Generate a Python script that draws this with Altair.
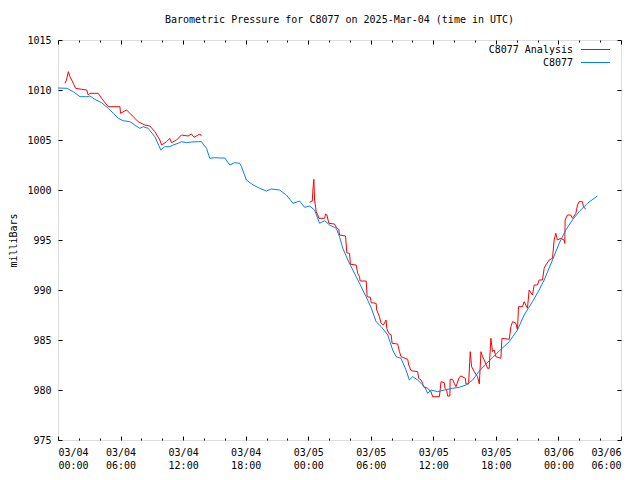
import altair as alt
import pandas as pd

TITLE = "Barometric Pressure for C8077 on 2025-Mar-04 (time in UTC)"
Y_TITLE = "milliBars"
SERIES = ["C8077 Analysis", "C8077"]
COLORS = ["#ff0000", "#0a7ff0"]

# hours since 2025-03-04 00:00 UTC
obs_hours = [0.0, 0.85, 1.47, 2.11, 2.75, 3.06, 3.54, 4.18, 4.82, 5.30, 5.78, 6.25, 6.89, 7.37,
             7.85, 8.17, 8.64, 9.29, 9.86, 10.25, 10.72, 11.04, 11.52, 11.84, 12.32, 12.80, 13.44,
             13.76, 14.24, 14.56, 15.04, 15.52, 16.0, 16.48, 16.95, 17.43, 17.6, 18.07, 18.71,
             19.34, 19.98, 20.46, 21.26, 21.9, 22.54, 23.17, 23.65, 24.13, 24.61, 25.09, 25.57,
             26.05, 26.69, 27.0, 27.32, 27.8, 28.28, 28.92, 29.55, 30.03, 30.51, 31.0, 31.63,
             32.1, 32.43, 32.9, 33.38, 33.7, 34.02, 34.5, 35.15, 35.46, 35.78, 36.42, 37.06,
             37.85, 38.49, 39.13, 39.77, 40.41, 41.05, 41.69, 42.32, 43.28, 44.07, 44.71, 45.51,
             46.15, 46.63, 47.43, 48.07, 48.71, 49.34, 49.98, 50.78, 51.73]
obs_mb = [1010.2, 1010.17, 1009.83, 1009.33, 1009.33, 1009.4, 1009.07, 1008.73, 1008.17, 1007.67,
          1007.17, 1006.93, 1006.83, 1006.5, 1006.17, 1006.33, 1006.17, 1005.33, 1004.0, 1004.33,
          1004.33, 1004.5, 1004.67, 1004.83, 1004.73, 1004.8, 1004.83, 1004.83, 1004.17, 1003.17,
          1003.23, 1003.2, 1003.2, 1002.5, 1002.73, 1002.67, 1002.33, 1001.0, 1000.5, 1000.17,
          999.9, 1000.1, 1000.0, 999.5, 998.67, 998.9, 998.27, 998.4, 998.0, 996.67, 996.93,
          996.5, 996.17, 995.33, 994.17, 993.0, 992.0, 990.67, 989.33, 988.25, 986.83, 986.33,
          985.5, 984.0, 983.33, 983.17, 982.0, 981.0, 981.33, 981.0, 980.33, 979.67, 980.0,
          979.83, 980.0, 980.17, 980.27, 980.5, 981.0, 981.9, 982.6, 983.25, 983.9, 984.83,
          986.0, 987.5, 988.83, 990.0, 991.0, 993.0, 994.67, 996.0, 997.0, 997.83, 998.67, 999.4]

# analysis, first segment
ana1_hours = [0.67, 0.81, 0.99, 1.15, 1.47, 1.69, 2.27, 2.75, 2.9, 3.06, 3.54, 3.86, 4.18, 4.82,
              5.94, 6.0, 6.58, 7.06, 7.69, 8.33, 8.81, 9.29, 9.77, 9.93, 10.41, 10.72, 10.89,
              11.37, 11.84, 12.48, 12.8, 13.05, 13.6, 13.76]
ana1_mb = [1010.67, 1011.0, 1011.83, 1011.33, 1010.67, 1010.17, 1010.07, 1010.0, 1009.5, 1009.67,
           1009.67, 1009.67, 1009.17, 1008.33, 1008.33, 1007.67, 1008.0, 1007.5, 1006.83, 1006.5,
           1006.4, 1005.83, 1005.0, 1004.5, 1004.83, 1005.17, 1004.73, 1005.0, 1005.5, 1005.4,
           1005.6, 1005.27, 1005.6, 1005.4]

# analysis, second segment
ana2_hours = [24.13, 24.39, 24.45, 24.54, 24.61, 24.77, 24.92, 25.02, 25.57, 25.66, 25.79, 25.98,
              26.52, 26.69, 26.93, 27.0, 27.58, 27.7, 27.96, 28.05, 28.6, 28.75, 28.92, 28.98,
              29.56, 29.65, 29.97, 30.04, 30.51, 30.57, 30.83, 30.99, 31.21, 31.47, 31.53, 31.72,
              31.95, 32.05, 32.58, 32.75, 32.91, 33.54, 33.64, 33.87, 34.5, 34.59, 34.82, 34.98,
              35.04, 35.46, 35.62, 35.78, 35.93, 36.58, 36.74, 37.05, 37.12, 37.28, 37.37, 37.59,
              37.61, 37.85, 38.01, 38.17, 38.49, 38.65, 39.07, 39.13, 39.38, 39.45, 39.54, 39.67,
              39.93, 40.24, 40.41, 40.57, 40.72, 40.88, 41.2, 41.36, 41.52, 41.68, 41.84, 42.0,
              42.48, 42.58, 43.28, 43.44, 43.6, 43.92, 44.07, 44.17, 44.55, 44.71, 44.87, 45.03,
              45.19, 45.51, 45.67, 45.99, 46.15, 46.47, 46.63, 46.79, 47.11, 47.43, 47.59, 47.75,
              47.9, 48.23, 48.54, 48.61, 48.64, 48.86, 49.18, 49.34, 49.67, 49.83, 49.98, 50.3,
              50.4, 50.62]
ana2_mb = [998.77, 998.9, 1000.0, 1001.07, 999.0, 997.83, 997.5, 997.17, 997.17, 997.6, 997.5,
           996.67, 996.6, 996.27, 996.07, 995.5, 995.4, 993.73, 993.67, 992.57, 992.5, 991.67,
           991.33, 990.9, 990.9, 989.33, 989.27, 988.73, 988.67, 988.0, 987.33, 986.67, 986.5,
           987.0, 986.17, 985.67, 985.5, 984.67, 984.6, 983.83, 983.33, 983.07, 982.5, 981.93,
           981.83, 981.17, 981.0, 980.67, 980.33, 980.17, 980.0, 979.83, 979.33, 979.33, 980.83,
           980.73, 980.17, 980.0, 979.4, 979.4, 981.07, 981.07, 980.67, 980.33, 981.27, 981.4,
           981.17, 980.6, 980.6, 982.0, 983.83, 982.33, 981.83, 981.33, 980.6, 983.83, 983.33,
           983.0, 982.17, 982.17, 985.17, 983.83, 984.0, 983.33, 983.17, 985.17, 985.07, 986.33,
           986.83, 986.67, 986.0, 988.33, 988.33, 988.83, 988.5, 988.17, 990.0, 989.5, 990.5,
           990.5, 991.0, 991.0, 992.17, 992.5, 993.0, 993.17, 995.0, 995.67, 995.0, 995.17, 995.0,
           994.67, 997.0, 997.5, 997.5, 997.17, 997.67, 998.5, 998.83, 998.83, 998.33, 998.07]

X_MAJOR = [0, 6, 12, 18, 24, 30, 36, 42, 48, 54]
X_MINOR = list(range(0, 55, 2))
Y_TICKS = [975, 980, 985, 990, 995, 1000, 1005, 1010, 1015]

obs_df = pd.DataFrame({"h": obs_hours, "mb": obs_mb})
obs_df["i"] = range(len(obs_df))
ana_df = pd.DataFrame({
    "h": ana1_hours + ana2_hours,
    "mb": ana1_mb + ana2_mb,
    "seg": ["a"] * len(ana1_hours) + ["b"] * len(ana2_hours),
})
ana_df["i"] = range(len(ana_df))

W, H = 563, 400
FONT = "DejaVu Sans Mono"
xs = alt.Scale(domain=[0, 54], nice=False, zero=False)
ys = alt.Scale(domain=[975, 1015], nice=False, zero=False)

label_expr = ("['03/0' + (4 + floor(datum.value / 24)), "
              "(datum.value % 24 < 10 ? '0' : '') + (datum.value % 24) + ':00']")
tick_cond = {"condition": {"test": "datum.value % 6 == 0", "value": 4}, "value": 2}

# red analysis line: inward ticks at bottom and left
red = alt.Chart(ana_df).mark_line(color=COLORS[0], strokeWidth=1).encode(
    x=alt.X("h:Q", scale=xs, axis=alt.Axis(orient="top", offset=-H, values=X_MINOR, labels=False,
                                            domain=False, grid=False, title=None,
                                            tickSize=tick_cond, tickColor="black")),
    y=alt.Y("mb:Q", scale=ys, axis=alt.Axis(orient="right", offset=-W, values=Y_TICKS, labels=False,
                                             domain=False, grid=False, title=None,
                                             tickSize=4, tickColor="black")),
    detail="seg:N",
    order="i:Q",
)

# blue observation line: labels
blue = alt.Chart(obs_df).mark_line(color=COLORS[1], strokeWidth=1).encode(
    x=alt.X("h:Q", scale=xs, axis=alt.Axis(orient="bottom", values=X_MAJOR, ticks=False, tickSize=0,
                                            domain=False, grid=False, title=None,
                                            labelExpr=label_expr, labelPadding=7,
                                            labelLineHeight=13, labelBaseline="top",
                                            labelFont=FONT, labelFontSize=10, labelColor="black")),
    y=alt.Y("mb:Q", scale=ys, axis=alt.Axis(orient="left", values=Y_TICKS, ticks=False, tickSize=0,
                                             domain=False, grid=False, title=Y_TITLE, format="d",
                                             labelPadding=7, labelFont=FONT, labelFontSize=10,
                                             labelColor="black", titleFont=FONT, titleFontSize=10,
                                             titleFontWeight="normal", titleColor="black",
                                             titleX=-45, titleY=200, titleAlign="center",
                                             titleBaseline="middle")),
    order="i:Q",
)

# invisible copy carrying inward ticks at top and right
ghost = alt.Chart(obs_df).mark_line(opacity=0).encode(
    x=alt.X("h:Q", scale=xs, axis=alt.Axis(orient="bottom", offset=-H, values=X_MINOR, labels=False,
                                            domain=False, grid=False, title=None,
                                            tickSize=tick_cond, tickColor="black")),
    y=alt.Y("mb:Q", scale=ys, axis=alt.Axis(orient="left", offset=-W, values=Y_TICKS, labels=False,
                                             domain=False, grid=False, title=None,
                                             tickSize=4, tickColor="black")),
    order="i:Q",
)

leg = []
for k, (name, col) in enumerate(zip(SERIES, COLORS)):
    yy = 10 + 13 * k
    leg.append(alt.Chart(pd.DataFrame({"n": [name]})).mark_text(
        align="right", baseline="middle", font=FONT, fontSize=10, color="black").encode(
        text="n:N", x=alt.value(515), y=alt.value(yy)))
    leg.append(alt.Chart(pd.DataFrame({"n": [name]})).mark_rule(color=col, strokeWidth=1).encode(
        x=alt.value(523), x2=alt.value(552), y=alt.value(yy - 0.5)))

chart = alt.layer(red, blue, ghost, *leg).resolve_axis(x="independent", y="independent").properties(
    width=W, height=H,
    title=alt.TitleParams(TITLE, font=FONT, fontSize=10, fontWeight="normal", color="black",
                          anchor="middle", frame="group", offset=2, baseline="alphabetic"),
    padding={"left": 50, "top": 32, "right": 11, "bottom": 32},
    autosize=alt.AutoSizeParams(type="none"),
).configure_view(stroke="black", strokeWidth=1).configure(background="white")

chart.save("out.html", embed_options={"renderer": "svg", "actions": False})
